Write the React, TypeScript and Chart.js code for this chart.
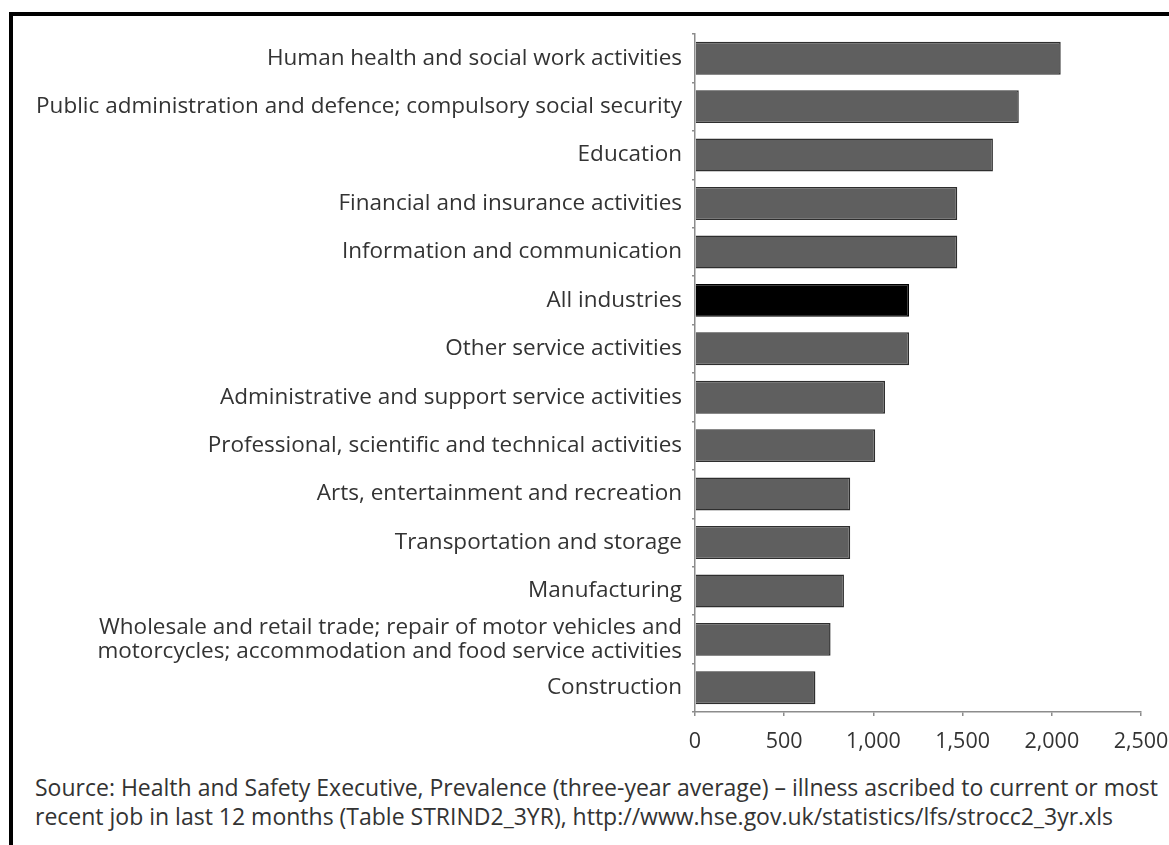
import React, { useEffect, useRef } from "react";
import { Chart, registerables } from "chart.js";

Chart.register(...registerables);

const categories: (string | string[])[] = [
  "Human health and social work activities",
  "Public administration and defence; compulsory social security",
  "Education",
  "Financial and insurance activities",
  "Information and communication",
  "All industries",
  "Other service activities",
  "Administrative and support service activities",
  "Professional, scientific and technical activities",
  "Arts, entertainment and recreation",
  "Transportation and storage",
  "Manufacturing",
  [
    "Wholesale and retail trade; repair of motor vehicles and",
    "motorcycles; accommodation and food service activities",
  ],
  "Construction",
];

const values: number[] = [2050, 1815, 1670, 1470, 1470, 1200, 1200, 1065, 1010, 870, 870, 835, 760, 675];

const xTicks: number[] = [0, 500, 1000, 1500, 2000, 2500];

const sourceLines: string[] = [
  "Source: Health and Safety Executive, Prevalence (three-year average) \u2013 illness ascribed to current or most",
  "recent job in last 12 months (Table STRIND2_3YR), http://www.hse.gov.uk/statistics/lfs/strocc2_3yr.xls",
];

const FONT = "'Open Sans', sans-serif";

export default function App() {
  const ref = useRef<HTMLCanvasElement | null>(null);

  useEffect(() => {
    if (!ref.current) return;
    const fills = categories.map((c) => (c === "All industries" ? "#000000" : "#5f5f5f"));
    const borders = categories.map((c) => (c === "All industries" ? "#000000" : "#2e2e2e"));
    const chart = new Chart(ref.current, {
      type: "bar",
      data: {
        labels: categories,
        datasets: [
          {
            data: values,
            backgroundColor: fills,
            borderColor: borders,
            borderWidth: 1.5,
            barPercentage: 0.68,
            categoryPercentage: 1,
          },
        ],
      },
      options: {
        indexAxis: "y",
        animation: false,
        responsive: false,
        maintainAspectRatio: false,
        layout: { padding: { top: 14, right: 28, left: 0, bottom: 0 } },
        plugins: { legend: { display: false }, tooltip: { enabled: false } },
        scales: {
          x: {
            min: 0,
            max: 2500,
            afterBuildTicks: (scale: any) => {
              scale.ticks = xTicks.map((v) => ({ value: v }));
            },
            afterFit: (scale: any) => {
              scale.height = 50;
              scale.paddingLeft = 0;
              scale.paddingRight = 0;
            },
            border: { display: true, color: "#8c8c8c", width: 1.5 },
            grid: {
              display: true,
              drawOnChartArea: false,
              drawTicks: true,
              tickLength: 4,
              color: "#8c8c8c",
              lineWidth: 1.5,
            },
            ticks: {
              padding: 13,
              color: "#333333",
              font: { family: FONT, size: 21.5 },
              callback: (v: any) => Number(v).toLocaleString("en-GB"),
            },
          },
          y: {
            afterFit: (scale: any) => {
              scale.width = 675;
              scale.paddingTop = 0;
              scale.paddingBottom = 0;
            },
            border: { display: true, color: "#8c8c8c", width: 1.5 },
            grid: {
              display: true,
              drawOnChartArea: false,
              drawTicks: true,
              tickLength: 3,
              color: "#8c8c8c",
              lineWidth: 1.5,
            },
            ticks: {
              padding: 10,
              color: "#333333",
              autoSkip: false,
              font: { family: FONT, size: 22.5, lineHeight: 1.07 },
            },
          },
        },
      },
    });
    return () => chart.destroy();
  }, []);

  return (
    <div
      style={{
        position: "absolute",
        left: 0,
        top: 0,
        width: 1169,
        height: 845,
        overflow: "hidden",
        background: "#ffffff",
      }}
    >
      <div
        style={{
          position: "absolute",
          left: 9,
          top: 12,
          width: 1200,
          height: 900,
          borderLeft: "4px solid #000",
          borderTop: "4px solid #000",
        }}
      />
      <canvas
        ref={ref}
        width={1149}
        height={742}
        style={{ position: "absolute", left: 20, top: 20, width: 1149, height: 742 }}
      />
      <div
        style={{
          position: "absolute",
          left: 35,
          top: 773,
          fontFamily: FONT,
          fontSize: 23,
          lineHeight: "29px",
          color: "#333333",
          whiteSpace: "nowrap",
        }}
      >
        {sourceLines.map((l, i) => (
          <div key={i}>{l}</div>
        ))}
      </div>
    </div>
  );
}
